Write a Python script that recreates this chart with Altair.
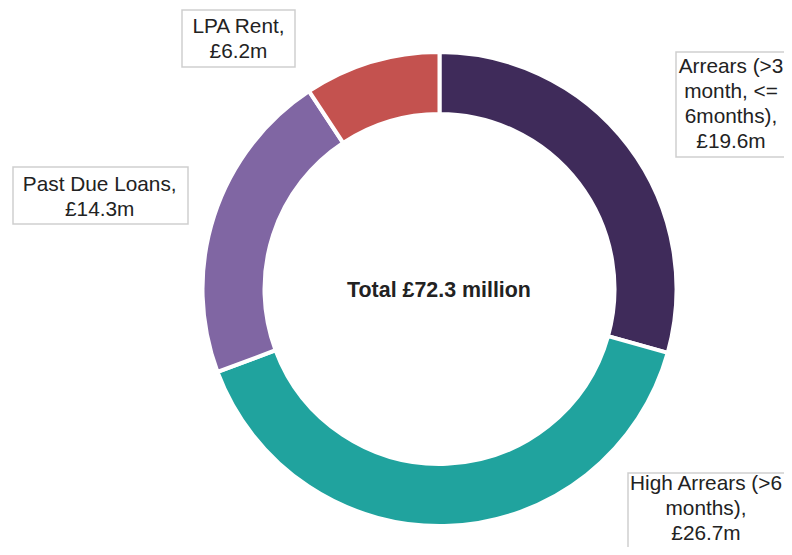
import altair as alt
import pandas as pd

categories = ["Arrears (>3 month, <= 6months)", "High Arrears (>6 months)", "Past Due Loans", "LPA Rent"]
values = [19.6, 26.7, 14.3, 6.2]
colors = ["#3f2b5a", "#20a39e", "#8066a3", "#c4524f"]
label_texts = [
    "Arrears (>3\nmonth, <=\n6months),\n£19.6m",
    "High Arrears (>6\nmonths),\n£26.7m",
    "Past Due Loans,\n£14.3m",
    "LPA Rent,\n£6.2m",
]
center_text = "Total £72.3 million"

# annotation layout (pixels inside the view)
label_x = [723, 698, 91.7, 230.5]
label_y = [65.3, 482, 182.7, 25]
box_x = [668, 620, 5, 174]
box_x2 = [820, 820, 180, 287]
box_y = [44, 465, 159, 2]
box_y2 = [149, 600, 216, 59]

W, H = 776, 539
CX, CY = 431.5, 281

arcs = pd.DataFrame({"category": categories, "value": values, "idx": list(range(len(values)))})
labels = pd.DataFrame({
    "text": label_texts, "lx": label_x, "ly": label_y,
    "bx": box_x, "bx2": box_x2, "by": box_y, "by2": box_y2,
})

donut = alt.Chart(arcs).mark_arc(radius=237, radius2=175, stroke="white", strokeWidth=4).encode(
    theta=alt.Theta("value:Q", stack=True),
    order=alt.Order("idx:Q"),
    color=alt.Color("category:N", scale=alt.Scale(domain=categories, range=colors), legend=None),
    x=alt.value(CX),
    y=alt.value(CY),
)

boxes = alt.Chart(labels).mark_rect(fill="white", stroke="#cfcfcf", strokeWidth=1.5).encode(
    x=alt.X("bx:Q", scale=None, axis=None),
    x2="bx2:Q",
    y=alt.Y("by:Q", scale=None, axis=None),
    y2="by2:Q",
)

texts = alt.Chart(labels).mark_text(
    font="Liberation Sans", fontSize=20.8, lineHeight=25, lineBreak="\n",
    align="center", baseline="alphabetic", color="#222222",
).encode(
    x=alt.X("lx:Q", scale=None, axis=None),
    y=alt.Y("ly:Q", scale=None, axis=None),
    text="text:N",
)

total = alt.Chart(pd.DataFrame({"t": [center_text]})).mark_text(
    font="Liberation Sans", fontSize=21.4, fontWeight="bold",
    align="center", baseline="alphabetic", color="#222222",
).encode(
    x=alt.value(431), y=alt.value(289.3), text="t:N",
)

chart = alt.layer(donut, boxes, texts, total).properties(
    width=W, height=H, padding=0,
    autosize=alt.AutoSizeParams(type="none"),
).configure_view(stroke=None)

chart.save("out.html", embed_options={"renderer": "svg", "actions": False})
